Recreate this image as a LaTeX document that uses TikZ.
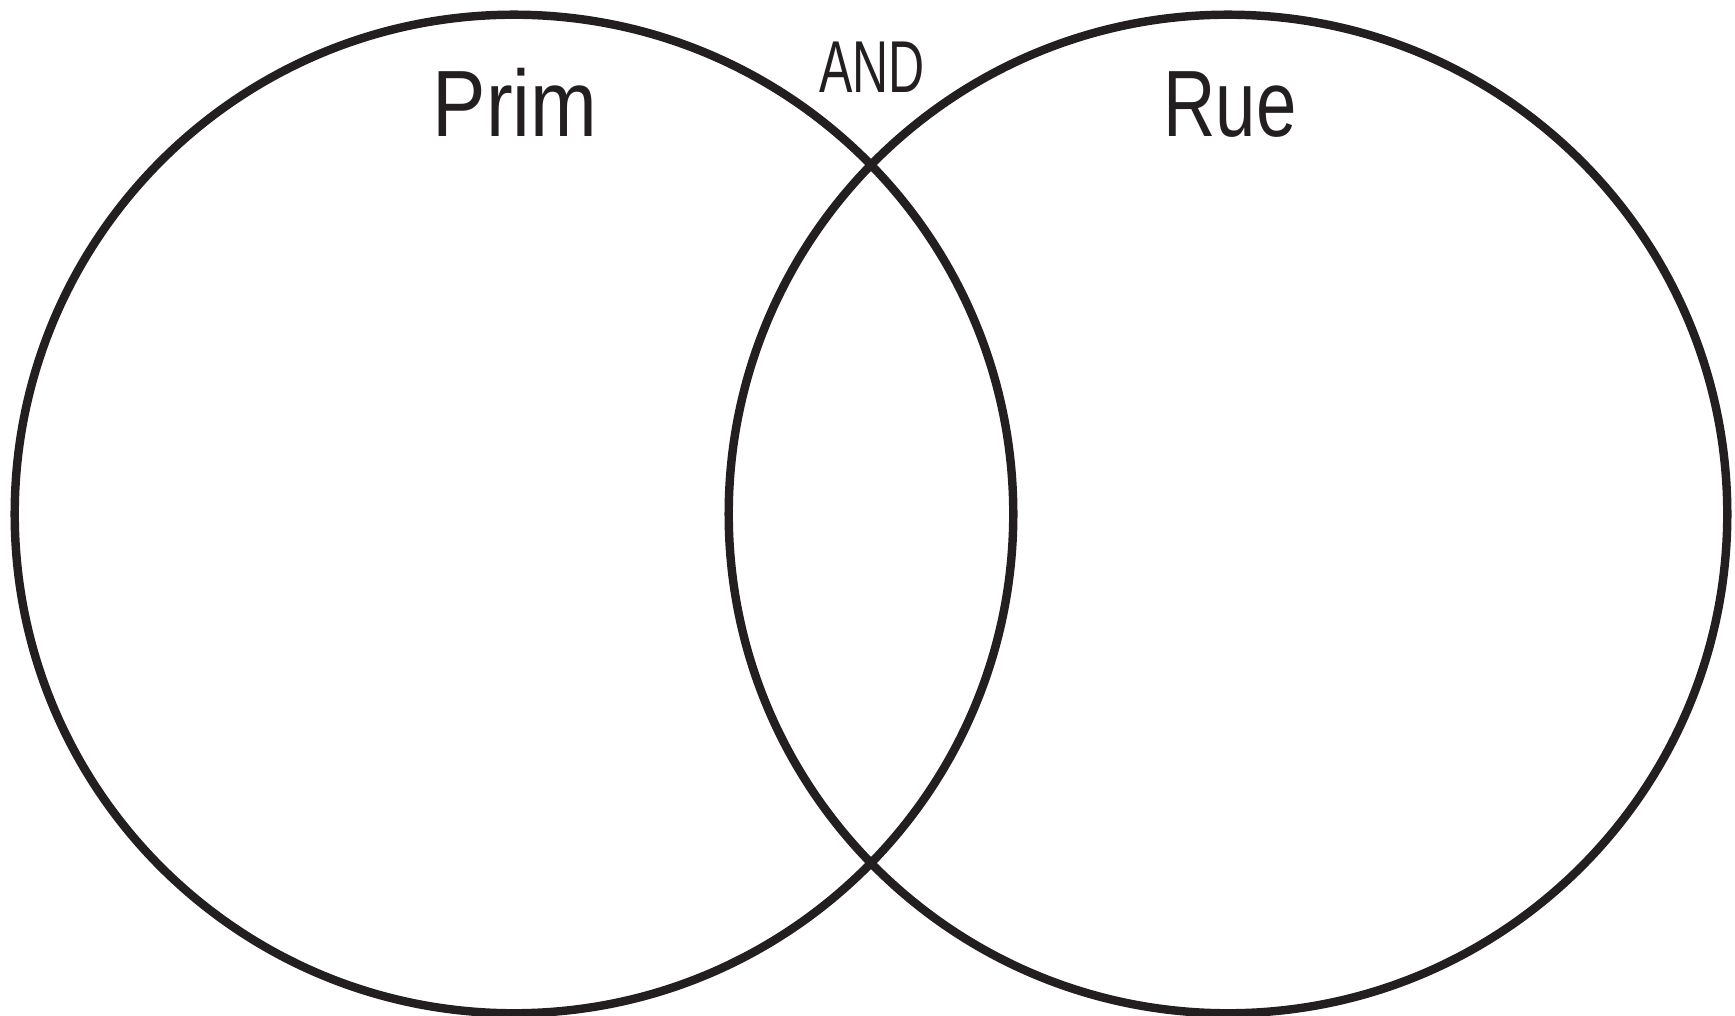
\documentclass[tikz,border=0pt]{standalone}
\usepackage{fontspec}
\usepackage{graphicx}
\usepackage{xcolor}
\usepackage{tikz}
\usetikzlibrary{shapes,positioning}

\setmainfont{Liberation Sans}
\definecolor{inkblack}{RGB}{35,31,32}
% condensed look for the labels
\newcommand{\narrow}[2]{\scalebox{#1}[1]{#2}}

\begin{document}
\begin{tikzpicture}[
    x=0.01cm, y=-0.01cm,
    setcircle/.style={circle, draw=inkblack, line width=2.4pt, minimum size=9.98cm, inner sep=0pt},
    setlabel/.style={anchor=base, text=inkblack, font=\fontsize{26.8pt}{30pt}\selectfont},
    andlabel/.style={anchor=base, text=inkblack, font=\fontsize{20.9pt}{24pt}\selectfont},
]
    \useasboundingbox (0,0) rectangle (1735,1016);

    \node[setcircle] (prim) at (514,514) {};
    \node[setcircle] (rue) at (1228,514) {};

    \node[setlabel] (primlabel) at (515,137) {\narrow{0.85}{Prim}};
    \node[setlabel] (ruelabel) at (1230,137) {\narrow{0.77}{Rue}};
    \node[andlabel] (andlabel) at (872,93) {\narrow{0.68}{AND}};
\end{tikzpicture}
\end{document}
